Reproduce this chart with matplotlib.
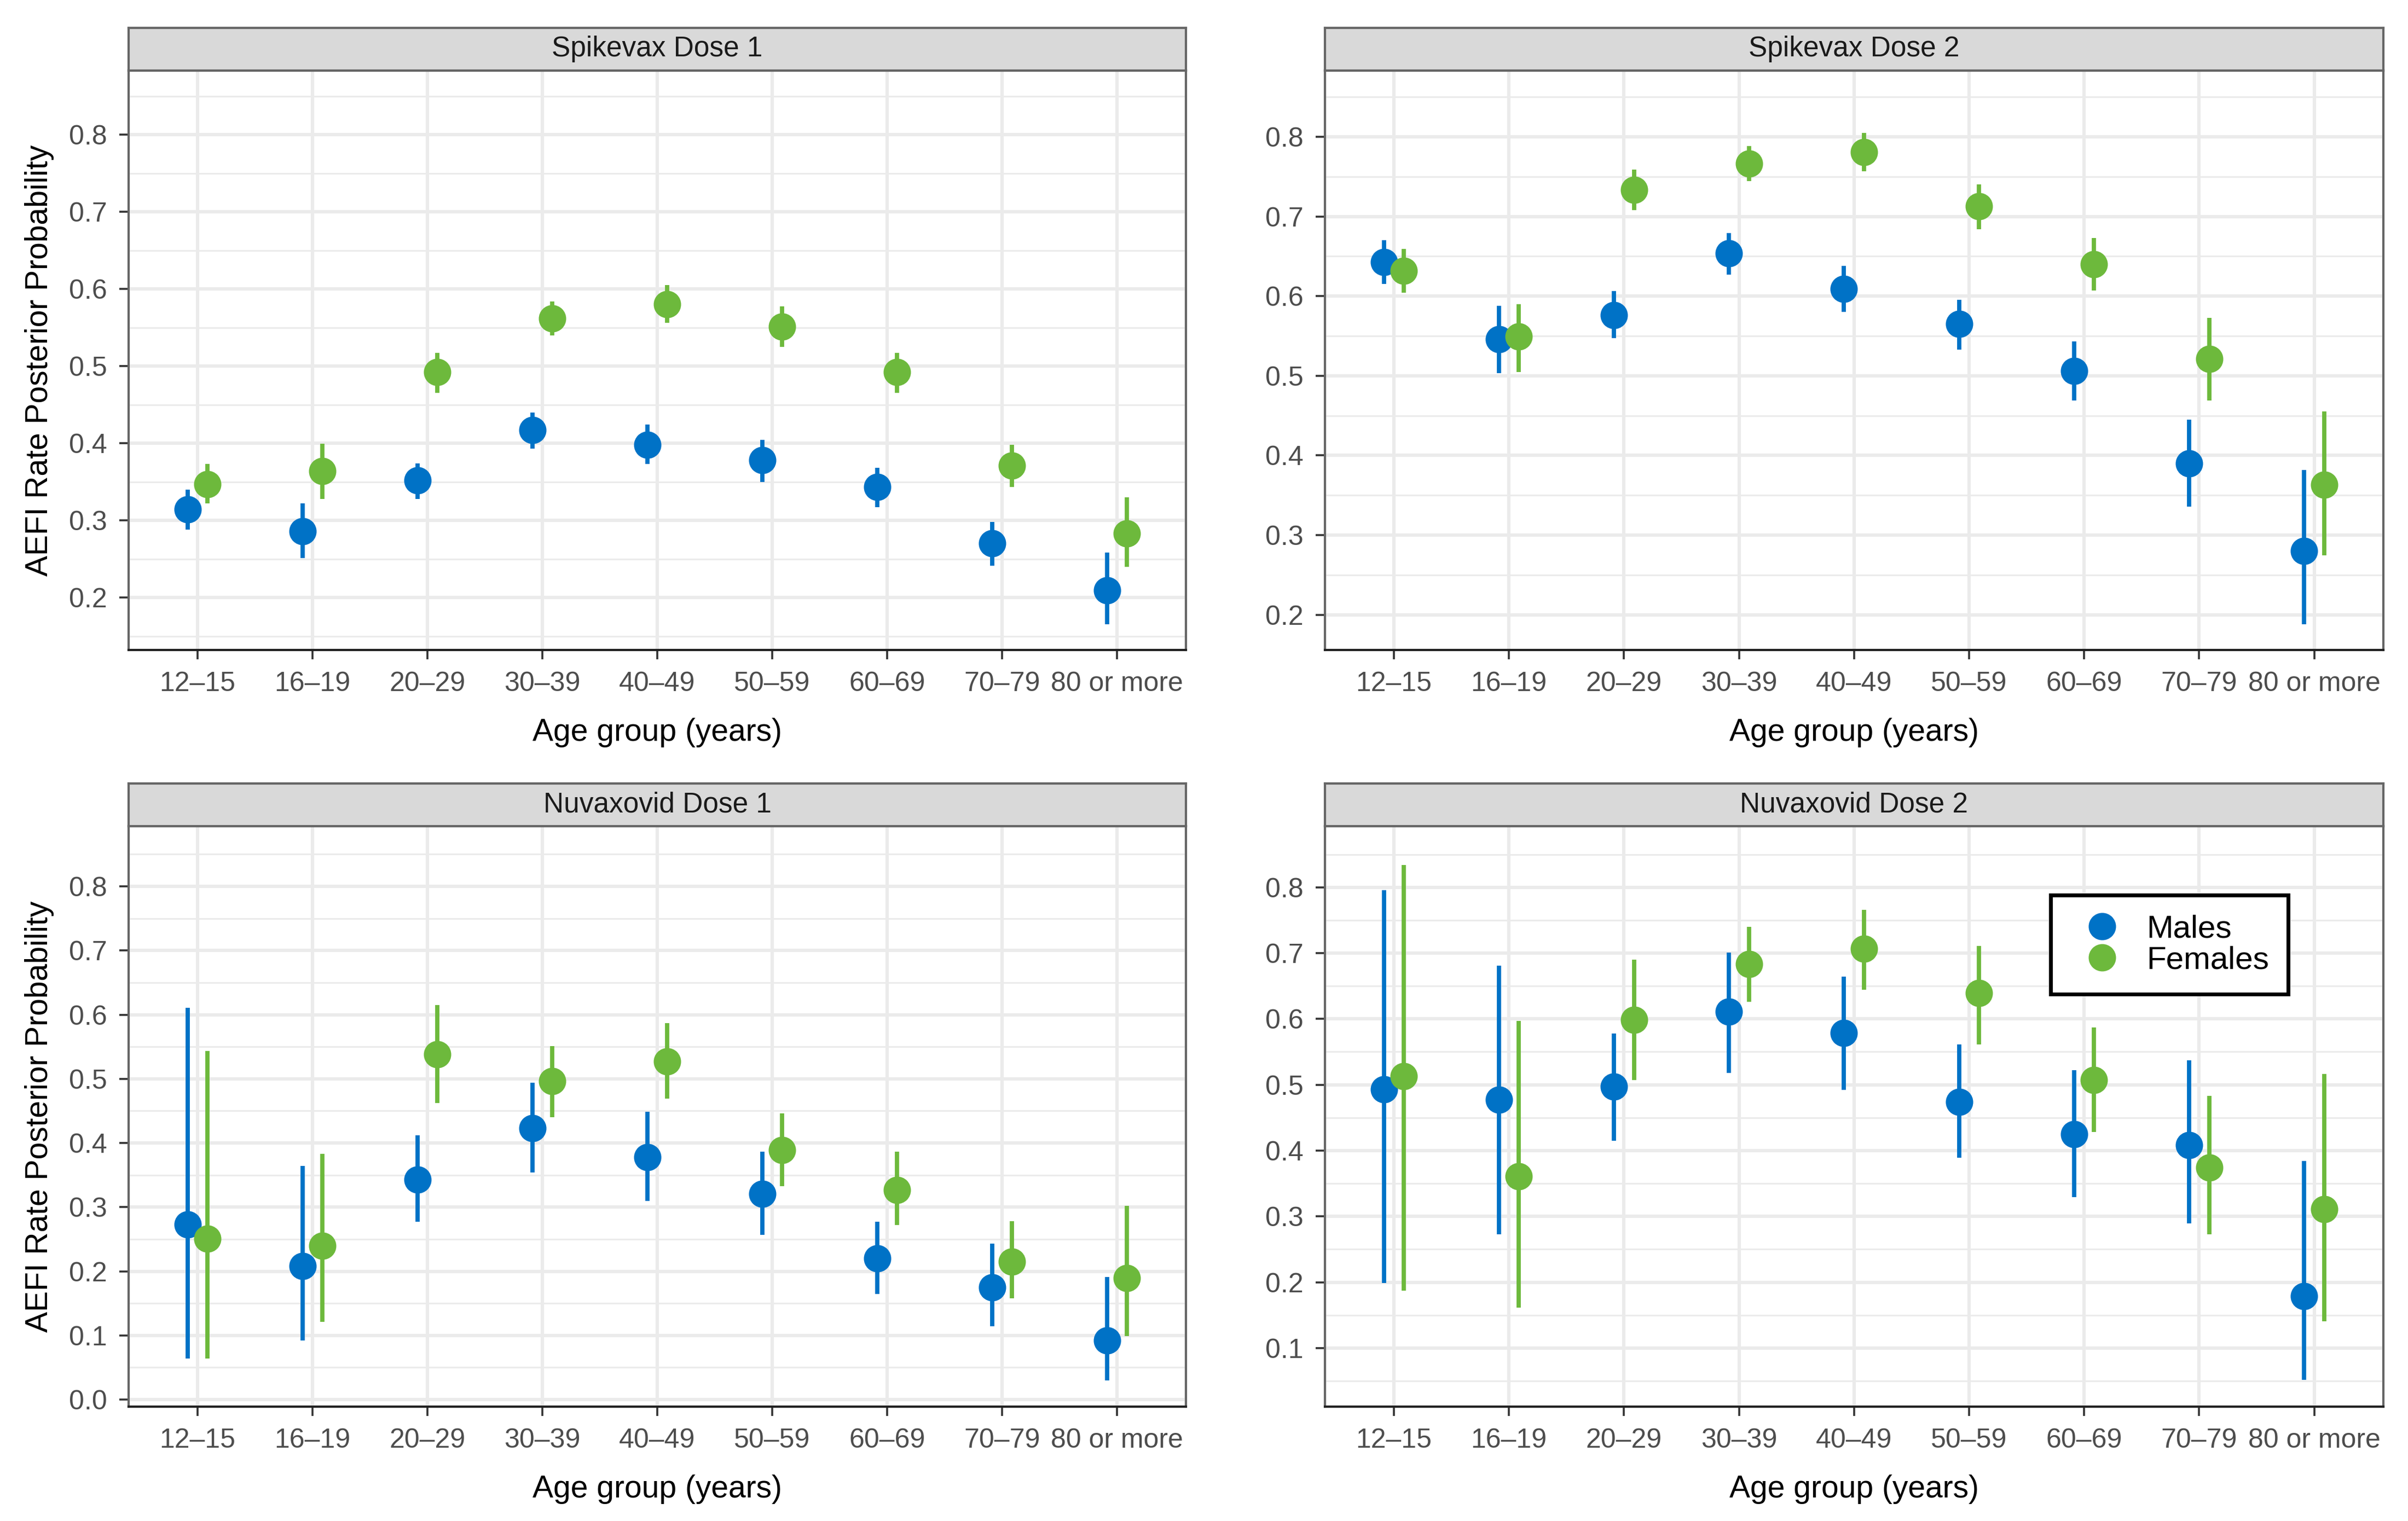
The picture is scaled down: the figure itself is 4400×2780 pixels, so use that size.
import numpy as np
import matplotlib
matplotlib.use("Agg")
import matplotlib.pyplot as plt
from matplotlib.ticker import MultipleLocator, FormatStrFormatter
from matplotlib.lines import Line2D

plt.rcParams['font.family'] = ['Liberation Sans', 'DejaVu Sans']

age_groups = ["12\u201315", "16\u201319", "20\u201329", "30\u201339", "40\u201349",
              "50\u201359", "60\u201369", "70\u201379", "80 or more"]

panels = ["Spikevax Dose 1", "Spikevax Dose 2", "Nuvaxovid Dose 1", "Nuvaxovid Dose 2"]

# posterior means and 95% intervals
spk1_m = [0.314, 0.286, 0.352, 0.417, 0.398, 0.378, 0.343, 0.270, 0.209]
spk1_m_lo = [0.288, 0.251, 0.328, 0.393, 0.373, 0.350, 0.317, 0.241, 0.165]
spk1_m_hi = [0.340, 0.322, 0.374, 0.440, 0.424, 0.404, 0.368, 0.298, 0.258]
spk1_f = [0.347, 0.364, 0.492, 0.562, 0.580, 0.551, 0.492, 0.371, 0.283]
spk1_f_lo = [0.322, 0.328, 0.465, 0.540, 0.556, 0.525, 0.465, 0.343, 0.240]
spk1_f_hi = [0.373, 0.399, 0.517, 0.584, 0.605, 0.577, 0.517, 0.398, 0.330]

spk2_m = [0.643, 0.546, 0.576, 0.654, 0.609, 0.565, 0.506, 0.390, 0.280]
spk2_m_lo = [0.615, 0.503, 0.547, 0.627, 0.580, 0.533, 0.469, 0.336, 0.188]
spk2_m_hi = [0.670, 0.588, 0.606, 0.679, 0.638, 0.595, 0.543, 0.445, 0.382]
spk2_f = [0.632, 0.549, 0.733, 0.766, 0.781, 0.713, 0.640, 0.521, 0.363]
spk2_f_lo = [0.604, 0.505, 0.708, 0.744, 0.757, 0.684, 0.607, 0.469, 0.275]
spk2_f_hi = [0.659, 0.590, 0.759, 0.788, 0.805, 0.740, 0.673, 0.573, 0.455]

nvx1_m = [0.273, 0.208, 0.343, 0.423, 0.378, 0.321, 0.220, 0.175, 0.092]
nvx1_m_lo = [0.064, 0.092, 0.277, 0.354, 0.310, 0.257, 0.165, 0.114, 0.030]
nvx1_m_hi = [0.611, 0.364, 0.412, 0.494, 0.449, 0.386, 0.277, 0.243, 0.191]
nvx1_f = [0.251, 0.240, 0.538, 0.496, 0.527, 0.389, 0.327, 0.215, 0.189]
nvx1_f_lo = [0.064, 0.121, 0.462, 0.440, 0.469, 0.333, 0.272, 0.158, 0.099]
nvx1_f_hi = [0.543, 0.383, 0.615, 0.551, 0.587, 0.446, 0.386, 0.278, 0.302]

nvx2_m = [0.493, 0.477, 0.497, 0.611, 0.579, 0.474, 0.425, 0.408, 0.179]
nvx2_m_lo = [0.199, 0.273, 0.415, 0.518, 0.492, 0.389, 0.329, 0.289, 0.052]
nvx2_m_hi = [0.796, 0.681, 0.578, 0.701, 0.664, 0.561, 0.522, 0.537, 0.384]
nvx2_f = [0.513, 0.361, 0.599, 0.683, 0.707, 0.639, 0.507, 0.374, 0.311]
nvx2_f_lo = [0.187, 0.161, 0.507, 0.626, 0.644, 0.561, 0.428, 0.273, 0.141]
nvx2_f_hi = [0.834, 0.597, 0.690, 0.740, 0.766, 0.711, 0.587, 0.483, 0.516]

males = [(spk1_m, spk1_m_lo, spk1_m_hi), (spk2_m, spk2_m_lo, spk2_m_hi),
         (nvx1_m, nvx1_m_lo, nvx1_m_hi), (nvx2_m, nvx2_m_lo, nvx2_m_hi)]
females = [(spk1_f, spk1_f_lo, spk1_f_hi), (spk2_f, spk2_f_lo, spk2_f_hi),
           (nvx1_f, nvx1_f_lo, nvx1_f_hi), (nvx2_f, nvx2_f_lo, nvx2_f_hi)]

y_limits = [(0.132, 0.883), (0.156, 0.883), (-0.011, 0.894), (0.011, 0.893)]

BLUE = "#0072C6"
GREEN = "#6DB93C"
GRID = "#EBEBEB"

fig = plt.figure(figsize=(22, 13.9), dpi=200)

# panel rectangles [left, bottom, width, height] in figure fraction
rects = [[0.0534, 0.5727, 0.4391, 0.3809], [0.5502, 0.5727, 0.4395, 0.3809],
         [0.0534, 0.0752, 0.4391, 0.3817], [0.5502, 0.0752, 0.4395, 0.3817]]
strip_h = 0.0281

x = np.arange(len(age_groups))
dodge = 0.087

for k, title in enumerate(panels):
    ax = fig.add_axes(rects[k])
    ax.set_xlim(-0.6, len(age_groups) - 0.4)
    ax.set_ylim(*y_limits[k])

    ax.yaxis.set_major_locator(MultipleLocator(0.1))
    ax.yaxis.set_minor_locator(MultipleLocator(0.05))
    ax.yaxis.set_major_formatter(FormatStrFormatter("%.1f"))
    ax.set_xticks(x)
    ax.set_xticklabels(age_groups)

    ax.grid(True, which="major", color=GRID, lw=2.2, zorder=0)
    ax.grid(True, which="minor", axis="y", color=GRID, lw=1.1, zorder=0)
    ax.set_axisbelow(True)

    for data, off, col in ((males[k], -dodge, BLUE), (females[k], dodge, GREEN)):
        m, lo, hi = (np.array(v) for v in data)
        ax.errorbar(x + off, m, yerr=[m - lo, hi - m], fmt="o", color=col,
                    ms=17, elinewidth=2.8, capsize=0, mec=col, zorder=3)

    ax.tick_params(axis="both", which="major", labelsize=18, labelcolor="#4D4D4D",
                   color="#333333", length=6, width=1.3, pad=8)
    ax.tick_params(axis="y", which="minor", length=0)
    for side in ("left", "right", "top"):
        ax.spines[side].set_color("#666666")
        ax.spines[side].set_linewidth(1.5)
    ax.spines["bottom"].set_color("#222222")
    ax.spines["bottom"].set_linewidth(1.5)

    ax.set_xlabel("Age group (years)", fontsize=20.5, color="black", labelpad=14)
    if k % 2 == 0:
        ax.set_ylabel("AEFI Rate Posterior Probability", fontsize=20.5,
                      color="black", labelpad=10)

    # facet strip
    l, b, w, h = rects[k]
    sax = fig.add_axes([l, b + h, w, strip_h])
    sax.set_facecolor("#D9D9D9")
    sax.set_xticks([])
    sax.set_yticks([])
    for sp in sax.spines.values():
        sp.set_color("#666666")
        sp.set_linewidth(1.5)
    sax.text(0.5, 0.5, title, ha="center", va="center", fontsize=18.5,
             color="#1A1A1A", transform=sax.transAxes)

    if k == 3:
        handles = [Line2D([], [], ls="none", marker="o", ms=17, color=BLUE),
                   Line2D([], [], ls="none", marker="o", ms=17, color=GREEN)]
        leg = ax.legend(handles, ["Males", "Females"], loc="upper left",
                        bbox_to_anchor=(0.686, 0.881), fontsize=21, frameon=True,
                        fancybox=False, edgecolor="black", framealpha=1,
                        borderpad=0.6, labelspacing=0.05, handletextpad=0.4,
                        borderaxespad=0)
        leg.get_frame().set_linewidth(2.5)

fig.savefig("out.png", dpi=200)
